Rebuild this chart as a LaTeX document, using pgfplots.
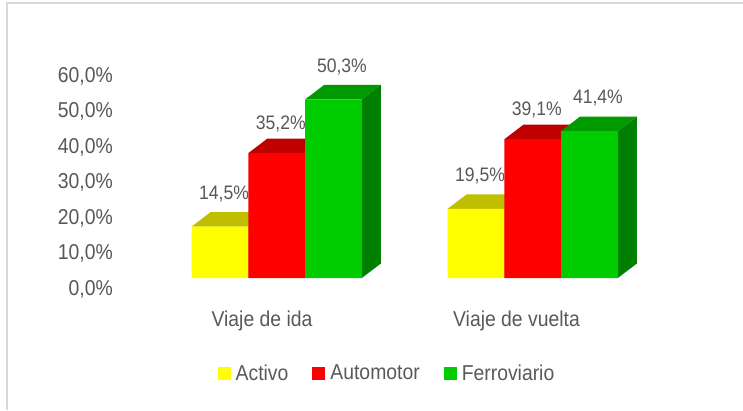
\documentclass[border=0pt]{standalone}
\usepackage{fontspec}
\setmainfont{Liberation Sans}[FakeStretch=0.9]
\usepackage{pgfplots}
\pgfplotsset{compat=1.18}
\definecolor{txt}{HTML}{595959}
\definecolor{yfront}{HTML}{FFFF00}
\definecolor{ytop}{HTML}{BFBF00}
\definecolor{yside}{HTML}{A6A600}
\definecolor{rfront}{HTML}{FF0000}
\definecolor{rtop}{HTML}{C00000}
\definecolor{rside}{HTML}{A00000}
\definecolor{gfront}{HTML}{00CC00}
\definecolor{gtop}{HTML}{009A00}
\definecolor{gside}{HTML}{008000}
\definecolor{framecol}{HTML}{D9D9D9}
\begin{document}
\begin{tikzpicture}[x=1bp,y=1bp]
\useasboundingbox (0,0) rectangle (743,410);
\fill[white] (0,0) rectangle (743,410);
\draw[framecol, line width=1.5bp] (7,0) -- (7,407) -- (743,407);
\begin{axis}[
  at={(118bp,132bp)}, anchor=south west,
  scale only axis, width=602bp, height=213bp,
  xmin=118, xmax=720, ymin=0, ymax=60,
  clip=false,
  axis line style={draw=none},
  tick style={draw=none},
  major tick length=0pt,
  /pgf/number format/use comma,
  /pgf/number format/fixed,
  /pgf/number format/fixed zerofill,
  /pgf/number format/precision=1,
  /pgf/number format/assume math mode=true,
  ytick={0,10,...,60},
  yticklabel={\pgfmathprintnumber{\tick}\%},
  yticklabel style={anchor=east, inner sep=0pt, xshift=-5bp, yshift=-11bp},
  xtick={262,516.5},
  xticklabels={Viaje de ida, Viaje de vuelta},
  xticklabel style={anchor=north, inner sep=0pt, yshift=-33bp},
  ticklabel style={font=\fontsize{21.6}{24}\selectfont, text=txt},
  legend columns=3,
  legend style={at={(axis cs:387,-26.8)}, anchor=center, draw=none, fill=none,
    font=\fontsize{21.6}{24}\selectfont, text=txt,
    /tikz/every even column/.append style={column sep=22bp}},
  decor/.style={draw=none, forget plot},
  front/.style={ybar, bar width=56.7, bar shift=0pt, draw=none,
    nodes near coords={\pgfmathprintnumber{\pgfplotspointmeta}\%},
    every node near coord/.append style={anchor=center, font=\fontsize{19.6}{22}\selectfont, text=txt}},
]
% --- 3D decoration: top and side faces (value, value + depth) ---
% Activo
\addplot[decor, fill=yside] coordinates {(248.4,0) (267.4,4.08) (267.4,18.58) (248.4,14.5)} --cycle;
\addplot[decor, fill=ytop] coordinates {(191.7,14.5) (248.4,14.5) (267.4,18.58) (210.7,18.58)} --cycle;
\addplot[decor, fill=yside] coordinates {(504.4,0) (523.4,4.08) (523.4,23.58) (504.4,19.5)} --cycle;
\addplot[decor, fill=ytop] coordinates {(447.7,19.5) (504.4,19.5) (523.4,23.58) (466.7,23.58)} --cycle;
% Automotor
\addplot[decor, fill=rside] coordinates {(305.1,0) (324.1,4.08) (324.1,39.28) (305.1,35.2)} --cycle;
\addplot[decor, fill=rtop] coordinates {(248.4,35.2) (305.1,35.2) (324.1,39.28) (267.4,39.28)} --cycle;
\addplot[decor, fill=rside] coordinates {(561.1,0) (580.1,4.08) (580.1,43.18) (561.1,39.1)} --cycle;
\addplot[decor, fill=rtop] coordinates {(504.4,39.1) (561.1,39.1) (580.1,43.18) (523.4,43.18)} --cycle;
% Ferroviario
\addplot[decor, fill=gside] coordinates {(361.8,0) (380.8,4.08) (380.8,54.38) (361.8,50.3)} --cycle;
\addplot[decor, fill=gtop] coordinates {(305.1,50.3) (361.8,50.3) (380.8,54.38) (324.1,54.38)} --cycle;
\addplot[decor, fill=gside] coordinates {(617.8,0) (636.8,4.08) (636.8,45.48) (617.8,41.4)} --cycle;
\addplot[decor, fill=gtop] coordinates {(561.1,41.4) (617.8,41.4) (636.8,45.48) (580.1,45.48)} --cycle;
% --- front faces with values ---
\addplot[front, fill=yfront,
  legend image code/.code={\fill[yfront] (0bp,-6.5bp) rectangle (13bp,6.5bp); \path (16bp,0bp);},
  every node near coord/.append style={xshift=4bp, yshift=33bp}]
  coordinates {(220.05,14.5) (476.05,19.5)};
\addplot[front, fill=rfront,
  legend image code/.code={\fill[rfront] (0bp,-6.5bp) rectangle (13bp,6.5bp); \path (16bp,0bp);},
  every node near coord/.append style={xshift=4bp, yshift=29.5bp}]
  coordinates {(276.75,35.2) (532.75,39.1)};
\addplot[front, fill=gfront,
  legend image code/.code={\fill[gfront] (0bp,-6.5bp) rectangle (13bp,6.5bp); \path (16bp,0bp);},
  every node near coord/.append style={xshift=8.5bp, yshift=33bp}]
  coordinates {(333.45,50.3) (589.45,41.4)};
\legend{Activo, Automotor, Ferroviario}
\end{axis}
\end{tikzpicture}
\end{document}
